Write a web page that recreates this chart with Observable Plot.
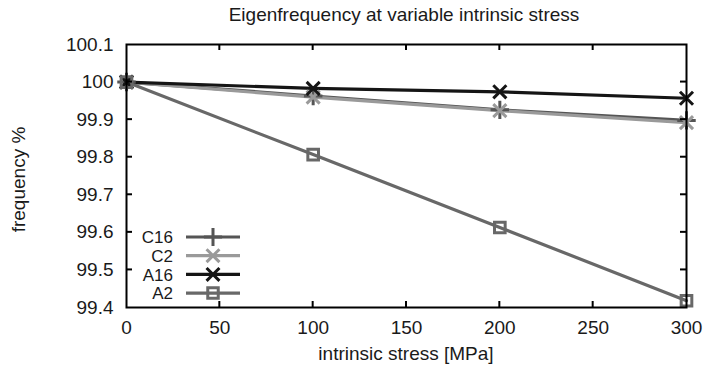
<!DOCTYPE html>
<html>
<head>
<meta charset="utf-8">
<script src="https://cdn.jsdelivr.net/npm/d3@7"></script>
<script src="https://cdn.jsdelivr.net/npm/@observablehq/plot@0.6"></script>
<style>
  html, body { margin: 0; padding: 0; background: #fff; }
  #chart { width: 704px; height: 367px; }
  svg { font-family: "Liberation Sans", Arial, sans-serif; }
</style>
</head>
<body>
<div id="chart"></div>
<script>
const stress = [0, 100, 200, 300];
const C16 = [100, 99.963, 99.926, 99.898];
const C2 = [100, 99.960, 99.924, 99.892];
const A16 = [100, 99.983, 99.974, 99.957];
const A2 = [100, 99.807, 99.613, 99.418];
const seriesNames = ["C16", "C2", "A16", "A2"];
const seriesColors = ["#555555", "#9a9a9a", "#151515", "#686868"];
const seriesSymbols = ["plus", "times", "times", "square"];
const xTicks = [0, 50, 100, 150, 200, 250, 300];
const yTicks = [99.4, 99.5, 99.6, 99.7, 99.8, 99.9, 100, 100.1];
const title = "Eigenfrequency at variable intrinsic stress";
const xLabel = "intrinsic stress [MPa]";
const yLabel = "frequency %";

const values = [C16, C2, A16, A2];
const data = [];
seriesNames.forEach((s, i) => stress.forEach((x, j) => data.push({series: s, x, y: values[i][j]})));

const W = 704, H = 367;
const mL = 126, mR = 18, mT = 44, mB = 60;
const FS = 19;
const LFS = 17;

const plot = Plot.plot({
  width: W, height: H,
  marginLeft: mL, marginRight: mR, marginTop: mT, marginBottom: mB,
  style: {fontFamily: "Liberation Sans, Arial, sans-serif", fontSize: FS + "px", color: "#1a1a1a", background: "#fff"},
  x: {domain: [0, 300], ticks: xTicks},
  y: {domain: [99.4, 100.1], ticks: yTicks},
  color: {domain: seriesNames, range: seriesColors},
  symbol: {domain: seriesNames, range: seriesSymbols},
  marks: [
    Plot.axisX({ticks: xTicks, tickSize: 0, tickPadding: 13, label: null, fontSize: FS, tickFormat: d => String(d)}),
    Plot.axisY({ticks: yTicks, tickSize: 0, tickPadding: 13, label: null, fontSize: FS, tickFormat: d => String(+d.toFixed(1))}),
    Plot.line(data, {x: "x", y: "y", z: "series", stroke: "series", strokeWidth: 3.2}),
    Plot.dot(data, {x: "x", y: "y", symbol: "series", stroke: "series", fill: "none", r: 6, strokeWidth: 3}),
    Plot.frame({stroke: "#000", strokeWidth: 2})
  ]
});
document.getElementById("chart").appendChild(plot);

// inward ticks, title, axis labels, legend (positioned with the plot's own scales)
const svg = d3.select(plot);
const xs = plot.scale("x"), ys = plot.scale("y");
const g = svg.append("g").attr("stroke", "#000").attr("stroke-width", 2);
const fTop = mT, fBottom = H - mB, fLeft = mL, fRight = W - mR;
xTicks.slice(1, -1).forEach(t => {
  const px = xs.apply(t);
  g.append("line").attr("x1", px).attr("x2", px).attr("y1", fBottom).attr("y2", fBottom - 6);
  g.append("line").attr("x1", px).attr("x2", px).attr("y1", fTop).attr("y2", fTop + 6);
});
yTicks.slice(1, -1).forEach(t => {
  const py = ys.apply(t);
  g.append("line").attr("x1", fLeft).attr("x2", fLeft + 6).attr("y1", py).attr("y2", py);
  g.append("line").attr("x1", fRight).attr("x2", fRight - 6).attr("y1", py).attr("y2", py);
});

const cx = (fLeft + fRight) / 2;
svg.append("text").attr("x", cx - 2).attr("y", 21).attr("text-anchor", "middle")
  .attr("font-size", FS).attr("fill", "#1a1a1a").text(title);
svg.append("text").attr("x", cx).attr("y", 360).attr("text-anchor", "middle")
  .attr("font-size", FS).attr("fill", "#1a1a1a").text(xLabel);
svg.append("text").attr("transform", `translate(25,${(fTop + fBottom) / 2 + 4}) rotate(-90)`)
  .attr("text-anchor", "middle").attr("font-size", FS).attr("fill", "#1a1a1a").text(yLabel);

const leg = svg.append("g");
const legY0 = fBottom - 70, legDy = 18.7;
const sym = {plus: d3.symbolPlus, times: d3.symbolTimes, square: d3.symbolSquare};
seriesNames.forEach((s, i) => {
  const y = legY0 + i * legDy;
  leg.append("text").attr("x", fLeft + 47).attr("y", y).attr("dy", "0.36em").attr("text-anchor", "end")
    .attr("font-size", LFS).attr("fill", "#1a1a1a").text(s);
  leg.append("line").attr("x1", fLeft + 60).attr("x2", fLeft + 114).attr("y1", y).attr("y2", y)
    .attr("stroke", seriesColors[i]).attr("stroke-width", 3.2);
  leg.append("path").attr("transform", `translate(${fLeft + 87},${y})`)
    .attr("d", d3.symbol(sym[seriesSymbols[i]], 110)())
    .attr("fill", "none").attr("stroke", seriesColors[i]).attr("stroke-width", 3);
});
</script>
</body>
</html>
